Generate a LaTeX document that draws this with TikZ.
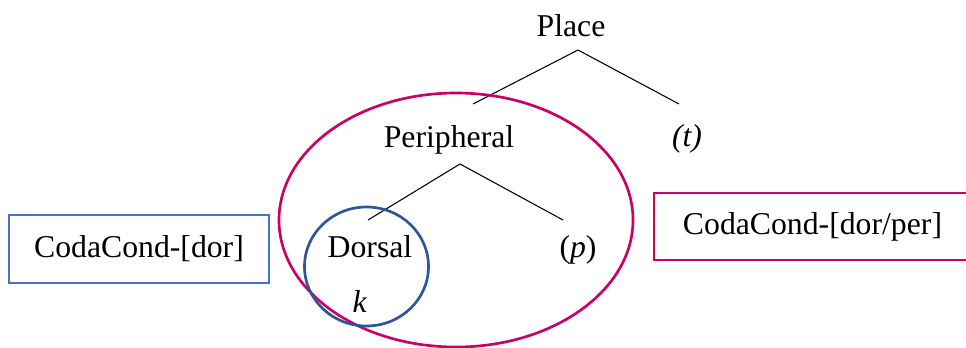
\documentclass[tikz,border=0pt]{standalone}
\usepackage{fontspec}
\setmainfont{Liberation Serif}
\usepackage{tikz}
\definecolor{condpink}{HTML}{CC0066}
\definecolor{condblue}{HTML}{4472C4}
\definecolor{dorblue}{HTML}{2F5597}
\tikzset{
	feat/.style={anchor=base, inner sep=0pt},
	condbox/.style={draw, line width=2pt, inner sep=0pt}
}

\begin{document}
\begin{tikzpicture}[x=0.75pt, y=-0.75pt, font=\fontsize{23.8}{28}\selectfont]
		\clip (0, 0) rectangle (966, 348);
		% feature tree
		\node[feat] (place) at (571, 37) {Place};
		\node[feat] (peri) at (449, 148) {Peripheral};
		\node[feat] (tt) at (687, 147) {\textit{(t)}};
		\node[feat] (dor) at (370, 258) {Dorsal};
		\node[feat] (pp) at (578, 258) {(\textit{p})};
		\node[feat] (k) at (360, 313) {\textit{k}};
		\coordinate (placefork) at (578, 50);
		\coordinate (perifork) at (460, 164);
		\coordinate (peritop) at (473, 104);
		\coordinate (ttop) at (679, 104);
		\coordinate (dortop) at (368, 220);
		\coordinate (pptop) at (563, 220);
		\foreach \a/\b in {placefork/peritop, placefork/ttop, perifork/dortop, perifork/pptop}
			\draw[line width=0.8pt] (\a) -- (\b);
		% domains
		\draw[condpink, line width=2pt] (456, 220) ellipse [x radius=177, y radius=127];
		\draw[dorblue, line width=2pt] (366.5, 266.5) ellipse [x radius=62, y radius=59.5];
		% coda conditions
		\node[condbox, condblue, text=black, minimum width=195pt, minimum height=51pt] (dorcond) at (139, 249) {CodaCond-[dor]};
		\node[condbox, condpink, text=black, minimum width=240.75pt, minimum height=50.25pt] (percond) at (814.5, 226.5) {\hspace{-3pt}CodaCond-[dor/per]};
	\end{tikzpicture}
\end{document}
